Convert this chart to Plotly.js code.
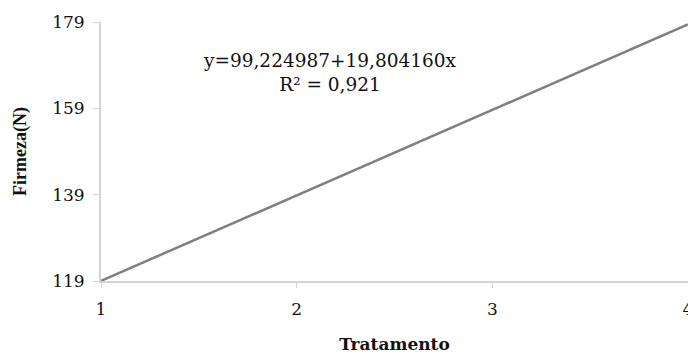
<!DOCTYPE html>
<html>
<head>
<meta charset="utf-8">
<script src="https://cdn.plot.ly/plotly-3.0.1.min.js"></script>
<style>html,body{margin:0;padding:0;background:#fff;}#chart{width:688px;height:354px;}</style>
</head>
<body>
<div id="chart"></div>
<script>
const tratamento = [1, 4];
const firmeza = [119.03, 178.44];
const xTicks = [1, 2, 3, 4];
const yTicks = [119, 139, 159, 179];
const equationText = "y=99,224987+19,804160x<br>R² = 0,921";

const wideSerif = "'DejaVu Serif', serif";
const serif = "'Liberation Serif', 'Times New Roman', serif";

const trace = {
  x: tratamento,
  y: firmeza,
  type: "scatter",
  mode: "lines",
  line: {color: "#7f7f7f", width: 2.5},
  showlegend: false,
  hoverinfo: "skip"
};

const layout = {
  width: 688,
  height: 354,
  margin: {l: 101, r: 0, t: 22, b: 73},
  paper_bgcolor: "#ffffff",
  plot_bgcolor: "#ffffff",
  font: {family: wideSerif, color: "#111"},
  xaxis: {
    range: [1, 4],
    tickvals: xTicks,
    ticktext: xTicks.map(String),
    showgrid: false,
    zeroline: false,
    showline: true,
    linecolor: "#d4d4d4",
    linewidth: 2,
    ticks: "outside",
    ticklen: 5,
    tickwidth: 1,
    tickcolor: "#d4d4d4",
    ticklabelstandoff: 7,
    ticklabeloverflow: "allow",
    tickfont: {family: wideSerif, size: 17, color: "#111"},
    title: {text: "<b>Tratamento</b>", font: {family: wideSerif, size: 17, color: "#111"}, standoff: 20},
    automargin: false,
    fixedrange: true
  },
  yaxis: {
    range: [119, 179],
    tickvals: yTicks,
    ticktext: yTicks.map(String),
    showgrid: false,
    zeroline: false,
    showline: true,
    linecolor: "#d4d4d4",
    linewidth: 2,
    ticks: "outside",
    ticklen: 6,
    tickwidth: 1,
    tickcolor: "#d4d4d4",
    ticklabelstandoff: 5,
    tickfont: {family: wideSerif, size: 17, color: "#111"},
    title: {text: "<b>Firmeza(N)</b>", font: {family: serif, size: 18, color: "#111"}, standoff: 21},
    automargin: false,
    fixedrange: true
  },
  annotations: [{
    x: 2.17,
    y: 167.2,
    xref: "x",
    yref: "y",
    text: equationText,
    showarrow: false,
    align: "center",
    font: {family: wideSerif, size: 18.5, color: "#111"}
  }]
};

Plotly.newPlot("chart", [trace], layout, {staticPlot: true, displayModeBar: false});
</script>
</body>
</html>
